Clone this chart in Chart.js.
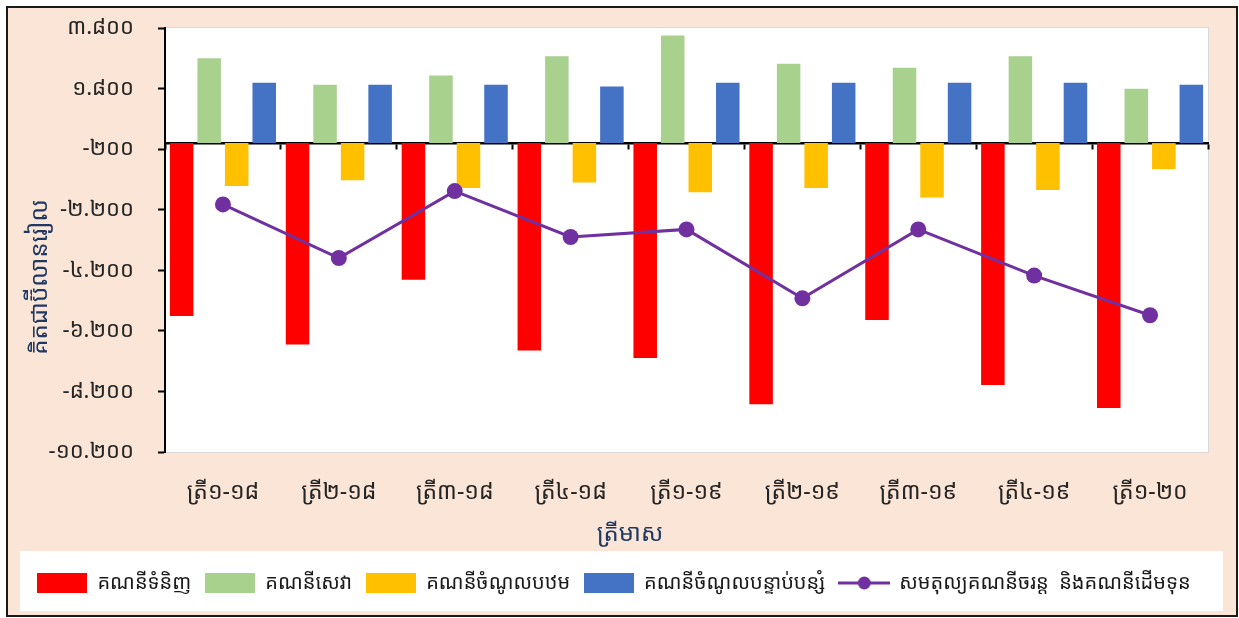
<!DOCTYPE html>
<html>
<head>
<meta charset="utf-8">
<script src="https://cdn.jsdelivr.net/npm/chart.js@4/dist/chart.umd.min.js"></script>
<style>
  html, body { margin: 0; padding: 0; background: #fff; }
  #frame {
    position: absolute; left: 6px; top: 6px; width: 1232px; height: 611px;
    box-sizing: border-box; border: 2px solid #1a1a1a; background: #fbe5d6;
  }
  #result { position: absolute; left: 0; top: 0; }
</style>
</head>
<body>
<div id="frame"></div>
<canvas id="result" width="1239" height="618"></canvas>
<script>
"use strict";
// quarters
const quarters = ["ត្រី១-១៨", "ត្រី២-១៨", "ត្រី៣-១៨", "ត្រី៤-១៨", "ត្រី១-១៩", "ត្រី២-១៩", "ត្រី៣-១៩", "ត្រី៤-១៩", "ត្រី១-២០"];

// series, billion riel
const goods = [-5710, -6650, -4510, -6850, -7100, -8620, -5840, -7990, -8745];
const services = [2800, 1930, 2230, 2870, 3550, 2620, 2490, 2870, 1795];
const primaryIncome = [-1420, -1230, -1485, -1300, -1620, -1485, -1800, -1550, -860];
const secondaryIncome = [1990, 1930, 1930, 1870, 1990, 1990, 1990, 1990, 1930];
const balance = [-2025, -3795, -1585, -3100, -2850, -5125, -2850, -4375, -5685];

const seriesNames = ["គណនីទំនិញ", "គណនីសេវា", "គណនីចំណូលបឋម", "គណនីចំណូលបន្ទាប់បន្សំ", "សមតុល្យគណនីចរន្ត  និងគណនីដើមទុន"];
const seriesColors = ["#ff0000", "#a9d18e", "#ffc000", "#4472c4", "#7030a0"];

const xTitle = "ត្រីមាស";
const yTitle = "គិតជាប៊ីលានរៀល";

// y axis range
const yMin = -10200;
const yMax = 3800;
const yStep = 2000;

const khmerDigits = ["០", "១", "២", "៣", "៤", "៥", "៦", "៧", "៨", "៩"];
function khmerNumber(v) {
  const s = Math.abs(Math.round(v)).toString().replace(/\B(?=(\d{3})+(?!\d))/g, ".");
  return (v < 0 ? "-" : "") + s.replace(/\d/g, (d) => khmerDigits[d]);
}

const FONT = "'Khmer OS', 'Khmer OS System', 'Noto Sans Khmer', 'Noto Serif Khmer', 'DejaVu Sans', sans-serif";

// legend icons
function swatch(color) {
  const c = document.createElement("canvas");
  c.width = 50; c.height = 20;
  const g = c.getContext("2d");
  g.fillStyle = color;
  g.fillRect(0, 0, 50, 20);
  return c;
}
function lineIcon(color) {
  const c = document.createElement("canvas");
  c.width = 52; c.height = 20;
  const g = c.getContext("2d");
  g.strokeStyle = color;
  g.lineWidth = 3;
  g.beginPath(); g.moveTo(0, 10); g.lineTo(52, 10); g.stroke();
  g.fillStyle = color;
  g.beginPath(); g.arc(26, 10, 6.5, 0, Math.PI * 2); g.fill();
  return c;
}
const legendIcons = [
  swatch(seriesColors[0]),
  swatch(seriesColors[1]),
  swatch(seriesColors[2]),
  swatch(seriesColors[3]),
  lineIcon(seriesColors[4]),
];

// white plot area, legend box, axis titles placed like the excel original
const decorations = {
  id: "decorations",
  beforeDraw(chart) {
    const { ctx, chartArea: a } = chart;
    ctx.save();
    ctx.fillStyle = "#ffffff";
    ctx.fillRect(a.left, a.top, a.right - a.left, a.bottom - a.top);
    ctx.strokeStyle = "#d9d9d9";
    ctx.lineWidth = 1;
    ctx.strokeRect(a.left + 0.5, a.top - 0.5, a.right - a.left, a.bottom - a.top + 1);
    ctx.fillRect(20, 551, 1203, 60);
    ctx.restore();
  },
  afterDraw(chart) {
    const { ctx, chartArea: a } = chart;
    ctx.save();
    ctx.fillStyle = "#1f3864";
    ctx.font = "24px " + FONT;
    ctx.textAlign = "center";
    ctx.textBaseline = "middle";
    ctx.fillText(xTitle, 630, 534);
    ctx.translate(40, a.top + 249);
    ctx.rotate(-Math.PI / 2);
    ctx.fillText(yTitle, 0, 0);
    ctx.restore();
  },
};

function barSet(i, data) {
  return {
    type: "bar",
    label: seriesNames[i],
    data: data,
    backgroundColor: seriesColors[i],
    categoryPercentage: 0.95,
    barPercentage: 0.855,
    xAxisID: "x",
    order: 2,
  };
}

new Chart("result", {
  data: {
    labels: quarters,
    datasets: [
      barSet(0, goods),
      barSet(1, services),
      barSet(2, primaryIncome),
      barSet(3, secondaryIncome),
      {
        type: "line",
        label: seriesNames[4],
        data: balance,
        borderColor: seriesColors[4],
        backgroundColor: seriesColors[4],
        borderWidth: 3,
        pointStyle: "circle",
        pointRadius: 8,
        pointHoverRadius: 8,
        pointBackgroundColor: seriesColors[4],
        pointBorderWidth: 0,
        lineTension: 0,
        fill: false,
        xAxisID: "x",
        order: 1,
      },
    ],
  },
  options: {
    responsive: false,
    animation: false,
    layout: { padding: { left: 20, right: 31, top: 28, bottom: 15 } },
    plugins: {
      legend: {
        position: "bottom",
        labels: {
          usePointStyle: true,
          pointStyleWidth: 50,
          boxHeight: 20,
          padding: 14,
          color: "#1a1a1a",
          font: { family: FONT, size: 20 },
          generateLabels(chart) {
            const items = Chart.defaults.plugins.legend.labels.generateLabels(chart);
            items.forEach((it) => { it.pointStyle = legendIcons[it.datasetIndex]; });
            return items;
          },
          sort: (a, b) => a.datasetIndex - b.datasetIndex,
        },
      },
      tooltip: { enabled: false },
    },
    scales: {
      x: {
        type: "category",
        position: { y: 0 },
        offset: true,
        ticks: { display: false },
        grid: {
          offset: true,
          drawOnChartArea: false,
          drawTicks: true,
          tickLength: 5,
          tickWidth: 2,
          tickColor: "#000000",
        },
        border: { display: true, color: "#000000", width: 2.5 },
      },
      x2: {
        type: "category",
        position: "bottom",
        offset: true,
        grid: { display: false, drawTicks: false },
        border: { display: false },
        ticks: {
          padding: 27,
          color: "#262626",
          maxRotation: 0,
          font: { family: FONT, size: 23 },
        },
        afterFit(scale) { scale.height = 107; },
      },
      y: {
        min: yMin,
        max: yMax,
        ticks: {
          stepSize: yStep,
          padding: 24,
          color: "#262626",
          font: { family: FONT, size: 22 },
          callback: (v) => khmerNumber(v),
        },
        grid: {
          drawOnChartArea: false,
          drawTicks: true,
          tickLength: 7,
          tickWidth: 2,
          tickColor: "#000000",
        },
        border: { display: true, color: "#000000", width: 2 },
        afterFit(scale) {
          scale.width = 145;
          scale.paddingTop = 0;
          scale.paddingBottom = 0;
        },
      },
    },
  },
  plugins: [decorations],
});
</script>
</body>
</html>
